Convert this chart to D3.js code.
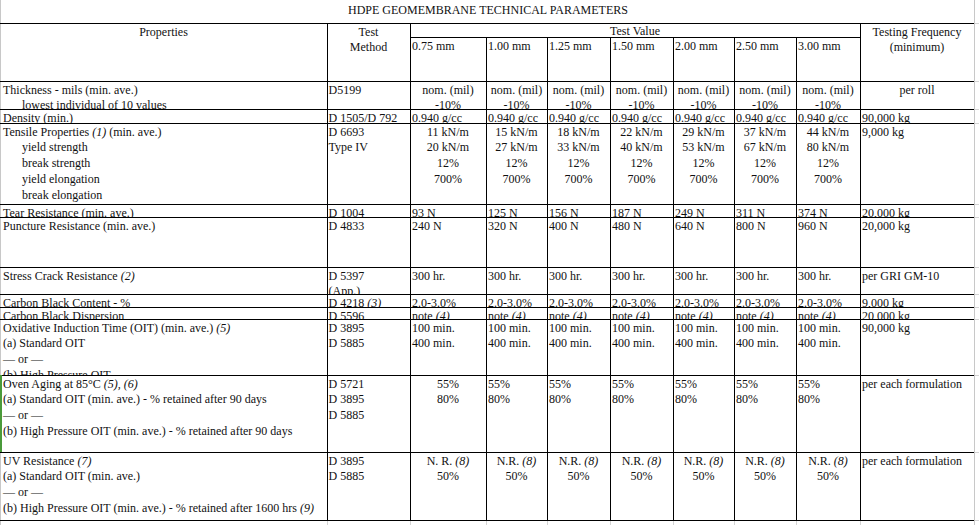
<!DOCTYPE html>
<html>
<head>
<meta charset="utf-8">
<script src="https://cdn.jsdelivr.net/npm/d3@7"></script>
<style>
  html, body { margin: 0; padding: 0; background: #fff; }
  svg { display: block; }
  text { font-family: "Liberation Serif", "Times New Roman", serif; font-size: 12px; fill: #111; }
</style>
</head>
<body>
<svg id="sheet" width="979" height="525"></svg>
<script>
// ---- table content ----
const title = "HDPE GEOMEMBRANE TECHNICAL PARAMETERS";
const headProps = ["Properties"];
const headMethod = ["Test", "Method"];
const headValue = "Test Value";
const headFreq = ["Testing Frequency", "(minimum)"];
const thicknesses = ["0.75 mm", "1.00 mm", "1.25 mm", "1.50 mm", "2.00 mm", "2.50 mm", "3.00 mm"];

// "_x_" marks italic note text, ">" marks an indented sub line
const properties = [
  ["Thickness - mils (min. ave.)", ">lowest individual of 10 values"],
  ["Density (min.)"],
  ["Tensile Properties _(1)_  (min. ave.)", ">yield strength", ">break strength", ">yield elongation", ">break elongation"],
  ["Tear Resistance  (min. ave.)"],
  ["Puncture Resistance (min. ave.)"],
  ["Stress Crack Resistance _(2)_"],
  ["Carbon Black Content - %"],
  ["Carbon Black Dispersion"],
  ["Oxidative Induction Time (OIT) (min. ave.) _(5)_", "(a) Standard OIT", "— or —", "(b) High Pressure OIT"],
  ["Oven Aging at 85°C _(5), (6)_", "(a) Standard OIT (min. ave.) - % retained after 90 days", "— or —", "(b) High Pressure OIT (min. ave.) - % retained after 90 days"],
  ["UV Resistance _(7)_", "(a) Standard OIT (min. ave.)", "— or —", "(b) High Pressure OIT (min. ave.) - % retained after 1600 hrs _(9)_"]
];

const methods = [
  ["D5199"], ["D 1505/D 792"], ["D 6693", "Type IV"], ["D 1004"], ["D 4833"],
  ["D 5397", "(App.)"], ["D 4218 _(3)_"], ["D 5596"], ["D 3895", "D 5885"],
  ["D 5721", "D 3895", "D 5885"], ["D 3895", "D 5885"]
];

const thicknessNom = ["nom. (mil)", "nom. (mil)", "nom. (mil)", "nom. (mil)", "nom. (mil)", "nom. (mil)", "nom. (mil)"];
const thicknessLow = ["-10%", "-10%", "-10%", "-10%", "-10%", "-10%", "-10%"];
const density = ["0.940 g/cc", "0.940 g/cc", "0.940 g/cc", "0.940 g/cc", "0.940 g/cc", "0.940 g/cc", "0.940 g/cc"];
const yieldStrength = [11, 15, 18, 22, 29, 37, 44];
const breakStrength = [20, 27, 33, 40, 53, 67, 80];
const yieldElongation = [12, 12, 12, 12, 12, 12, 12];
const breakElongation = [700, 700, 700, 700, 700, 700, 700];
const tearResistance = [93, 125, 156, 187, 249, 311, 374];
const punctureResistance = [240, 320, 400, 480, 640, 800, 960];
const stressCrack = [300, 300, 300, 300, 300, 300, 300];
const carbonContent = ["2.0-3.0%", "2.0-3.0%", "2.0-3.0%", "2.0-3.0%", "2.0-3.0%", "2.0-3.0%", "2.0-3.0%"];
const carbonDispersion = ["note _(4)_", "note _(4)_", "note _(4)_", "note _(4)_", "note _(4)_", "note _(4)_", "note _(4)_"];
const oitStandard = [100, 100, 100, 100, 100, 100, 100];
const oitHighPressure = [400, 400, 400, 400, 400, 400, 400];
const ovenStandard = [55, 55, 55, 55, 55, 55, 55];
const ovenHighPressure = [80, 80, 80, 80, 80, 80, 80];
const uvStandard = ["N. R. _(8)_", "N.R. _(8)_", "N.R. _(8)_", "N.R. _(8)_", "N.R. _(8)_", "N.R. _(8)_", "N.R. _(8)_"];
const uvHighPressure = [50, 50, 50, 50, 50, 50, 50];

const frequency = [
  "per roll", "90,000 kg", "9,000 kg", "20,000 kg", "20,000 kg", "per GRI GM-10",
  "9,000 kg", "20,000 kg", "90,000 kg", "per each formulation", "per each formulation"
];

// value cells: one entry per row, 7 columns, each a list of lines
const valueRows = [
  thicknesses.map((_, i) => [thicknessNom[i], thicknessLow[i]]),
  density.map((d) => [d]),
  thicknesses.map((_, i) => [
    `${yieldStrength[i]} kN/m`, `${breakStrength[i]} kN/m`, `${yieldElongation[i]}%`, `${breakElongation[i]}%`
  ]),
  tearResistance.map((d) => [`${d} N`]),
  punctureResistance.map((d) => [`${d} N`]),
  stressCrack.map((d) => [`${d} hr.`]),
  carbonContent.map((d) => [d]),
  carbonDispersion.map((d) => [d]),
  thicknesses.map((_, i) => [`${oitStandard[i]} min.`, `${oitHighPressure[i]} min.`]),
  thicknesses.map((_, i) => [`${ovenStandard[i]}%`, `${ovenHighPressure[i]}%`]),
  thicknesses.map((_, i) => [uvStandard[i], `${uvHighPressure[i]}%`])
];

// ---- layout ----
const colEdges = [0, 327, 410, 486, 547, 610, 673, 734, 796, 860, 974];
const rowEdges = [81, 109, 123, 204, 217, 267, 294, 307, 319, 375, 452, 520];
const headTop = 23;
const subHead = 37;
const lineGap = 15.8;
const firstBase = 12.5;
const valueAlign = ["center", "left", "center", "left", "left", "left", "left", "left", "left", "first", "center"];
const freqAlign = ["center", "left", "left", "left", "left", "left", "left", "left", "left", "left", "left"];

const svg = d3.select("#sheet");
const rowKeys = properties.map((_, i) => i);

const colLeft = d3.scaleOrdinal().domain(d3.range(colEdges.length - 1)).range(colEdges.slice(0, -1));
const colRight = d3.scaleOrdinal().domain(d3.range(colEdges.length - 1)).range(colEdges.slice(1));
const rowTop = d3.scaleOrdinal().domain(rowKeys).range(rowEdges.slice(0, -1));
const rowBottom = d3.scaleOrdinal().domain(rowKeys).range(rowEdges.slice(1));
const lineY = d3.scaleLinear().domain([0, 1]).range([firstBase, firstBase + lineGap]);

// writes a line of text, "_x_" parts set in italics
function richText(sel, str) {
  str.split("_").forEach((part, i) => {
    if (!part) return;
    sel.append("tspan").attr("font-style", i % 2 ? "italic" : null).text(part);
  });
}

function cellText(g, lines, col, top, align, pad) {
  lines.forEach((line, k) => {
    const indent = line.startsWith(">");
    const str = indent ? line.slice(1) : line;
    const left = colLeft(col);
    const right = colRight(col);
    const t = g.append("text")
      .attr("y", top + lineY(k))
      .attr("x", align === "center" ? (left + right) / 2 : left + (pad ?? 2) + (indent ? 19 : 0))
      .attr("text-anchor", align === "center" ? "middle" : "start");
    richText(t, str);
  });
}

// title and header
svg.append("text").attr("x", 488).attr("y", 13.5).attr("text-anchor", "middle").text(title);

const head = svg.append("g");
cellText(head, headProps, 0, headTop, "center");
cellText(head, headMethod, 1, headTop, "center");
cellText(head, headFreq, 9, headTop, "center");
head.append("text")
  .attr("x", (colEdges[2] + colEdges[9]) / 2)
  .attr("y", headTop + 11.5)
  .attr("text-anchor", "middle")
  .text(headValue);
thicknesses.forEach((d, i) => cellText(head, [d], i + 2, subHead, "left"));

// body rows, clipped like spreadsheet cells
const defs = svg.append("defs");
rowKeys.forEach((r) => {
  defs.append("clipPath").attr("id", `row${r}`)
    .append("rect")
    .attr("x", 0).attr("y", rowTop(r))
    .attr("width", 979).attr("height", rowBottom(r) - rowTop(r));

  const g = svg.append("g").attr("clip-path", `url(#row${r})`);
  cellText(g, properties[r], 0, rowTop(r), "left", 3);
  cellText(g, methods[r], 1, rowTop(r), "left", 1.5);
  valueRows[r].forEach((lines, c) => {
    let align = valueAlign[r];
    if (align === "first") align = c === 0 ? "center" : "left";
    cellText(g, lines, c + 2, rowTop(r), align);
  });
  cellText(g, [frequency[r]], 9, rowTop(r), freqAlign[r]);
});

// grid lines
const grid = svg.append("g").attr("shape-rendering", "crispEdges");
const hLine = (y, x1, x2, color) => grid.append("line")
  .attr("x1", x1).attr("x2", x2).attr("y1", y + 0.5).attr("y2", y + 0.5).attr("stroke", color);
const vLine = (x, y1, y2, color) => grid.append("line")
  .attr("x1", x + 0.5).attr("x2", x + 0.5).attr("y1", y1).attr("y2", y2).attr("stroke", color);

vLine(0, 0, 525, "#c8c8c8");
vLine(974, 0, 525, "#c8c8c8");
[headTop, ...rowEdges].forEach((y) => {
  hLine(y, 0, 974, "#000");
  hLine(y, 975, 979, "#d4d4d4");
});
hLine(subHead, colEdges[2], colEdges[9], "#000");

colEdges.slice(1, -1).forEach((x, i) => {
  const inner = i >= 2 && i <= 7;
  vLine(x, inner ? subHead : headTop, rowEdges[rowEdges.length - 1], "#000");
  vLine(x, rowEdges[rowEdges.length - 1] + 1, 525, "#d4d4d4");
});

// selection marker at the left edge
svg.append("rect").attr("x", 0).attr("y", 375).attr("width", 2).attr("height", 77).attr("fill", "#4a9a3a");
</script>
</body>
</html>
